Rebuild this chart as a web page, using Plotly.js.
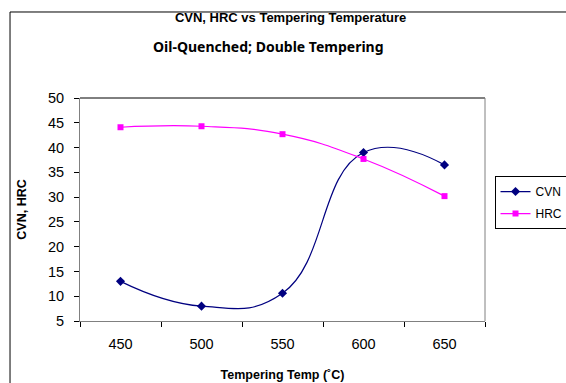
<!DOCTYPE html>
<html>
<head>
<meta charset="utf-8">
<script src="https://cdn.plot.ly/plotly-3.0.1.min.js"></script>
<style>html,body{margin:0;padding:0;background:#fff;}#chart{width:566px;height:383px;}</style>
</head>
<body>
<div id="chart"></div>
<script>
const temps = ['450', '500', '550', '600', '650'];
const cvn = [13.0, 8.0, 10.6, 39.0, 36.5];
const hrc = [44.1, 44.3, 42.7, 37.7, 30.2];
const yTicks = [5, 10, 15, 20, 25, 30, 35, 40, 45, 50];

const traces = [
  {
    x: temps, y: cvn, name: 'CVN', type: 'scatter', mode: 'lines+markers',
    legendgroup: 'a',
    line: {color: '#000080', width: 1.2, shape: 'spline', smoothing: 1.3},
    marker: {symbol: 'diamond', size: 7, color: '#000080'}
  },
  {
    x: temps, y: hrc, name: 'HRC', type: 'scatter', mode: 'lines+markers',
    legendgroup: 'b',
    line: {color: '#FF00FF', width: 1.2, shape: 'spline', smoothing: 1.3},
    marker: {symbol: 'square', size: 6, color: '#FF00FF'}
  }
];

const layout = {
  width: 566, height: 383,
  margin: {l: 80, r: 81, t: 98, b: 62, autoexpand: false},
  paper_bgcolor: '#ffffff', plot_bgcolor: '#ffffff',
  font: {family: 'Arial, "Liberation Sans", sans-serif', color: '#000'},
  title: {
    text: '<b>CVN, HRC vs Tempering Temperature</b>',
    font: {size: 13, family: 'Arial, "Liberation Sans", sans-serif'},
    x: 0.52, xanchor: 'center', xref: 'paper',
    y: 0.955, yref: 'container', yanchor: 'middle'
  },
  annotations: [{
    text: '<b>Oil-Quenched; Double Tempering</b>',
    xref: 'paper', yref: 'paper', x: 0.465, y: 1.233,
    xanchor: 'center', yanchor: 'middle', showarrow: false,
    font: {size: 14, family: '"Noto Sans", sans-serif'}
  }],
  xaxis: {
    type: 'category', range: [-0.5, 4.5],
    tickson: 'boundaries', ticks: 'outside', ticklen: 5, tickcolor: '#000',
    showline: true, linecolor: '#808080', linewidth: 1, mirror: false,
    showgrid: false, zeroline: false,
    tickfont: {size: 14.5}, ticklabelstandoff: 10,
    title: {text: '<b>Tempering Temp (˚C)</b>', font: {size: 12.5}, standoff: 18}
  },
  yaxis: {
    range: [5, 50], tickvals: yTicks, ticks: 'outside', ticklen: 5, tickcolor: '#000',
    showline: true, linecolor: '#808080', linewidth: 1,
    showgrid: false, zeroline: false,
    tickfont: {size: 14.5}, ticklabelstandoff: 7,
    title: {text: '<b>CVN, HRC</b>', font: {size: 12.5}, standoff: 18}
  },
  shapes: [
    {type: 'line', xref: 'paper', yref: 'paper', x0: 0, x1: 1, y0: 1, y1: 1, line: {color: '#000', width: 1}},
    {type: 'line', xref: 'paper', yref: 'paper', x0: 1, x1: 1, y0: 0, y1: 1, line: {color: '#808080', width: 1}},
    {type: 'line', xref: 'paper', yref: 'paper', x0: -0.1728, x1: 1.3, y0: 1.3857, y1: 1.3857, line: {color: '#000', width: 1}},
    {type: 'line', xref: 'paper', yref: 'paper', x0: -0.1728, x1: -0.1728, y0: -0.4, y1: 1.3857, line: {color: '#000', width: 1}}
  ],
  legend: {
    x: 1.0235, xanchor: 'left', y: 0.65, yanchor: 'top',
    bordercolor: '#000', borderwidth: 1, bgcolor: '#fff',
    font: {size: 12}, traceorder: 'grouped', tracegroupgap: 3, itemwidth: 30
  },
  showlegend: true
};

Plotly.newPlot('chart', traces, layout, {displayModeBar: false, staticPlot: true});
</script>
</body>
</html>
